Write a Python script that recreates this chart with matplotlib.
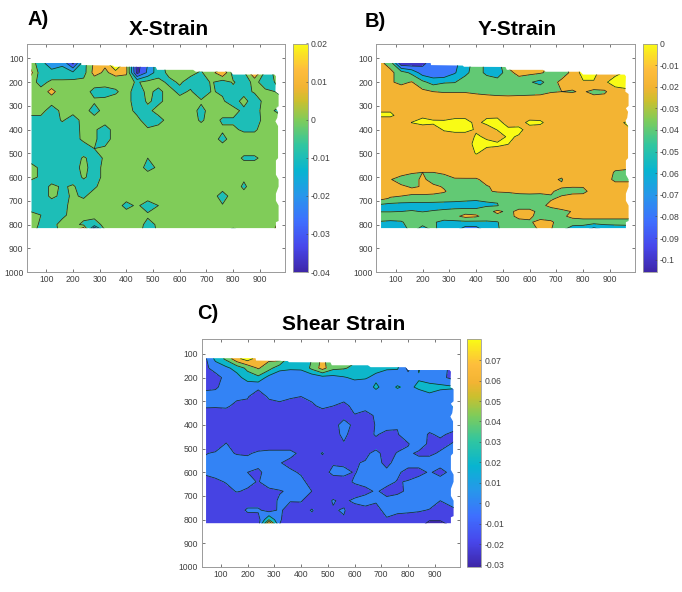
import numpy as np
import matplotlib
matplotlib.use("Agg")
import matplotlib.pyplot as plt
from matplotlib.colors import LinearSegmentedColormap, Normalize
from matplotlib.cm import ScalarMappable
from matplotlib.patches import Polygon

plt.rcParams['font.family'] = ['Liberation Sans', 'DejaVu Sans']

W, H = 682, 592

parula_colors = [(0.0,(0.2422,0.1504,0.6603)),(0.111,(0.2803,0.2782,0.9221)),(0.222,(0.2440,0.4358,0.9988)),
                 (0.333,(0.1540,0.5902,0.9218)),(0.444,(0.0297,0.7082,0.8163)),(0.556,(0.1938,0.7758,0.6251)),
                 (0.667,(0.5044,0.7993,0.3480)),(0.75,(0.8000,0.7500,0.1800)),(0.81,(0.9500,0.7050,0.2000)),
                 (0.889,(0.9955,0.7411,0.2371)),(1.0,(0.9769,0.9839,0.0805))]
parula = LinearSegmentedColormap.from_list("parula", parula_colors, N=256)

x_nodes = [40,80,120,160,200,240,280,320,360,400,440,480,520,560,600,640,680,720,760,800,840,880,920,975]
y_nodes = [120,160,200,240,280,320,360,400,440,480,520,560,600,640,680,720,760,800,820]
y_nodes_b = [120,160,200,240,280,340,370,400,430,460,500,540,580,610,640,660,690,720,745,765,790,820]

# specimen outline
outline_x = [45,230,232,350,355,510,515,650,660,790,800,955,960,958,970,970,960,968,965,958,968,968,960,960,970,970,960,960,970,970,960,960,45]
outline_y = [118,118,128,130,135,136,148,148,156,156,168,168,175,240,250,300,310,325,350,365,385,520,530,590,610,640,670,700,720,785,790,815,815]

# X-strain, in thousandths
x_strain = [
 [6,-6,-17,-12,-32,-4,12,12,40,12,-35,-20,-3,3,3,3,3,3,3,3,3,3,3,3],
 [14,-5,-6,-6,-8,-4,14,8,14,12,-33,-18,-4,2,2,2,-1,6,20,-5,-2,20,-3,3],
 [4,-3,2,2,3,3,3,3,3,3,-1,3,3,-2,1,-3,-4,1,-5,1,-5,3,-5,3],
 [3,3,14,3,3,3,-2,-3,-1,3,-4,2,-2,3,-2,1,-5,0.5,-1,-3,-3,1,2,-1],
 [3,3,3,3,3,3,1,2,3,3,-4,1,-2,3,3,3,1,1,1,-4,3,-5,3,2],
 [3,3,-4,2,3,3,-3,3,3,3,-2,-2,3,3,3,3,-2,3,3,3,-2,-3,3,-2],
 [-3,-3,-5,1,-4,3,3,3,3,3,2,-4,-3,3,3,3,-1,3,-1,-1,-3,-4,3,3],
 [-5,-5,-5,-5,-5,3,1,-3,3,3,3,1,3,3,3,3,3,3,1,1,-1,-1,3,3],
 [-5,-5,-5,-5,-4,2,1,-3,3,3,3,3,3,3,3,3,3,3,-2,3,3,3,3,3],
 [-5,-5,-5,-5,-5,-5,0,1,3,3,3,3,3,3,3,3,3,3,3,3,3,3,3,3],
 [-2,-4,-5,-5,-4,1,-3,1,3,3,3,0,2,3,3,3,3,3,3,3,-1,-1,2,3],
 [2,-1,-5,-5,-3,2,-3,2,3,3,3,-2,1,3,3,3,3,3,3,3,3,3,2,3],
 [2,-1,-5,-4,-4,1,-3,2,3,3,3,3,3,3,3,3,3,3,3,3,1,1,3,3],
 [-4,-5,2,-1,1,-4,-1,3,3,3,3,3,3,3,3,3,3,3,3,3,-1,3,3,3],
 [-5,-5,2,-2,1,-1,3,3,3,3,3,3,3,3,3,3,3,3,-3,3,2,3,3,3],
 [-5,-5,-5,-3,3,3,3,3,3,-2,1,-3,0,3,3,3,3,3,0.5,3,3,3,3,3],
 [3,0,-3,-2,3,3,2,3,3,3,3,1,3,3,3,3,3,3,3,3,3,3,3,3],
 [3,-1,-3,3,3,-2,-3,2,3,3,3,-2,1,3,3,3,3,3,3,3,3,3,3,12],
 [3,-2,-4,3,3,18,-34,2,3,3,3,-3,1,3,3,3,3,3,3,-1,3,3,3,14],
]

# Y-strain, in thousandths
y_strain = [
 [-15,-28,-95,-95,-85,-70,-65,-65,-50,-30,-45,-50,-15,-15,-10,-10,-25,-25,-10,8,8,-5,5,5],
 [-12,-15,-30,-45,-70,-75,-78,-62,-45,-30,-45,-55,-25,-15,-15,-18,-25,-30,-15,8,8,-15,-5,5],
 [-10,-18,-24,-19,-35,-48,-42,-41,-30,-30,-28,-28,-28,-28,-38,-46,-28,-15,-15,-2,-2,-3,8,8],
 [-10,-10,-10,-12,-15,-20,-21,-21,-21,-23,-25,-27,-28,-27,-26,-25,-21,-20,-21,-18,-25,-23,-8,-3],
 [-10,-10,-10,-10,-10,-10,-10,-10,-10,-10,-10,-10,-10,-10,-10,-10,-10,-10,-10,-10,-10,-10,-10,-10],
 [3,3,-6,-10,-3,-6,-9,-5,-5,-9,-3,-3,-9,-10,-10,-10,-10,-10,-10,-10,-10,-10,-10,-10],
 [-12,-12,-10,0.5,5,3,4,6,6,-4,4,5,-6,-8,5,4,-10,-10,-10,-10,-10,-10,-4,3],
 [-10,-10,-10,-10,-10,-10,2,6,6,-2,-9,1,3,5,-8,-10,-10,-10,-10,-10,-10,-10,-6,-1],
 [-10,-10,-10,-10,-10,-10,-10,-10,-10,2,-2,-10,3,-2,-10,-10,-10,-10,-10,-10,-10,-10,-10,-10],
 [-10,-10,-10,-10,-10,-10,-10,-10,-8,5,3,3,0.5,-10,-10,-10,-10,-10,-10,-10,-10,-10,-10,-10],
 [-10,-10,-10,-10,-10,-10,-10,-10,-10,1,-5,-8,-10,-10,-10,-10,-10,-10,-10,-10,-10,-10,-10,-10],
 [-10,-10,-10,-10,-10,-10,-10,-10,-10,-10,-10,-10,-10,-10,-10,-10,-10,-10,-10,-10,-10,-10,-10,-10],
 [-10,-10,-12,-18,-20,-20,-17,-11,-10,-10,-10,-10,-10,-10,-10,-10,-10,-16,-10,-10,-10,-10,-22,-25],
 [-10,-19,-28,-30,-15,-30,-28,-22,-22,-22,-15,-10,-10,-10,-10,-10,-18,-21,-10,-10,-10,-10,-25,-25],
 [-10,-14,-17,-22,-19,-15,-22,-30,-30,-28,-21,-17,-12,-12,-15,-14,-13,-18,-19,-19,-12,-10,-10,-10],
 [-10,-10,-12,-15,-14,-15,-18,-28,-30,-30,-22,-18,-17,-16,-17,-18,-18,-25,-26,-25,-12,-10,-10,-10],
 [-13,-22,-24,-26,-27,-28,-30,-30,-33,-35,-38,-38,-35,-28,-25,-24,-22,-17,-10,-10,-10,-10,-10,-10],
 [-45,-48,-50,-50,-50,-50,-50,-52,-52,-52,-42,-41,-28,-28,-28,-25,-15,-10,-10,-10,-10,-10,-10,-10],
 [-41,-41,-40,-38,-41,-38,-35,-30,-28,-28,-28,-15,-25,-15,-15,-25,-30,-25,-19,-10,-10,-10,-10,-10],
 [-28,-28,-30,-28,-28,-30,-30,-25,-14,-17,-28,-26,-25,-16,-17,-26,-26,-24,-15,-10,-10,-10,-10,-10],
 [-42,-44,-42,-32,-30,-38,-45,-45,-45,-45,-43,-41,-28,-25,-22,-15,-18,-26,-30,-32,-32,-32,-32,-32],
 [-55,-55,-55,-30,-50,-35,-50,-52,-70,-70,-50,-42,-30,-28,-25,-18,-19,-35,-50,-50,-68,-55,-52,-50],
]

# Shear strain, in thousandths
shear_strain = [
 [-5,25,45,75,90,70,65,70,25,25,40,65,45,45,45,45,25,25,25,-5,25,5,5,5],
 [-5,8,15,28,45,62,48,25,22,22,45,68,45,42,35,28,26,22,22,-5,22,6,5,-5],
 [-8,-8,6,12,30,35,12,8,10,12,5,12,13,18,24,22,15,11,8,8,18,8,6,-8],
 [-5,-3,8,8,5,3,8,8,8,8,8,8,8,8,8,8,24,10,22,15,24,28,25,22],
 [8,8,8,4,1,-7,2,6,2,0,4,8,8,8,8,8,8,8,8,8,8,15,8,10],
 [1,2,3,-5,-3,-2,-5,-5,-7,-8,-3,4,0,-6,6,8,8,8,8,8,8,8,8,22],
 [-4,-10,-10,-10,-10,-10,-10,-10,-10,-10,-10,-10,-3,-4,-1,-8,3,8,8,8,8,8,8,8],
 [-10,-10,-10,-10,-10,-10,-10,-10,-10,-10,-10,-10,-5,5,-3,-8,1,8,1,8,8,8,8,8],
 [-10,-10,-10,-10,-10,-10,-10,-10,-10,-10,-10,-10,-5,3,-6,-8,2,-6,-1,8,8,-2,3,-5],
 [-10,-10,1,-10,-4,-10,-10,-10,-10,-10,-10,-10,-6,-1,-8,-6,-7,-7,-6,-1,8,-3,-5,2],
 [-1,2,3,-1,-2,3,5,5,5,-4,-6,1,-10,-10,-10,-3,4,-6,1,3,-3,-3,2,8],
 [3,8,8,7,6,6,3,1,-5,-8,-8,-6,-2,-3,-1,1,6,-5,7,7,7,7,7,8],
 [2,5,8,8,0,-4,8,8,3,-2,-8,-8,5,4,-1,5,8,4,3,-6,-6,2,-6,8],
 [-5,-3,1,8,4,-1,8,8,8,4,-6,-10,-10,-6,2,6,8,5,-1,1,8,8,8,8],
 [-8,-8,-5,1,-2,-4,-4,-1,2,6,0,-8,-6,-8,-8,-5,2,-5,-4,3,8,8,8,8],
 [-10,-10,-10,-10,-10,-10,-6,2,1,1,-8,-6,1,-3,3,8,1,4,8,8,8,8,0,8],
 [-10,-10,-10,-10,3,3,-8,3,-8,-6,1,-6,-1,1,-7,-6,-3,3,6,4,2,-1,-5,-2],
 [-10,-10,-10,-10,-10,-8,40,2,-10,-12,-4,-10,-10,-1,-10,-10,-7,-1,-10,-10,-10,-18,-18,-10],
 [-12,-12,-12,-12,-12,-12,95,0,-12,-12,-12,-12,-12,-12,-12,-12,-12,-4,-12,-12,-12,-27,-27,-12],
]

x_levels = [-0.04,-0.03,-0.02,-0.01,0,0.01,0.02,0.10]
y_levels = [-0.14,-0.10,-0.08,-0.06,-0.04,-0.02,0,0.05]
s_levels = [-0.03,-0.02,0,0.02,0.04,0.06,0.08,0.12]

x_cticks = [-0.04,-0.03,-0.02,-0.01,0,0.01,0.02]
y_cticks = [-0.1,-0.09,-0.08,-0.07,-0.06,-0.05,-0.04,-0.03,-0.02,-0.01,0]
s_cticks = [-0.03,-0.02,-0.01,0,0.01,0.02,0.03,0.04,0.05,0.06,0.07]

x_ticks = [100,200,300,400,500,600,700,800,900]
y_ticks = [100,200,300,400,500,600,700,800,900,1000]

GRAY = '#404040'
EDGE = '#9a9a9a'

fig = plt.figure(figsize=(W/100, H/100), dpi=100)

def box(l, t, r, b):
    return [l/W, 1-b/H, (r-l)/W, (b-t)/H]

def panel(data, ynodes, levels, vmin, vmax, cticks, ax_px, cb_px):
    ax = fig.add_axes(box(*ax_px))
    Z = np.array(data, dtype=float)/1000.0
    X, Y = np.meshgrid(x_nodes, ynodes)
    norm = Normalize(vmin, vmax)
    cols = [parula(norm(v)) for v in levels[:-1]]
    cf = ax.contourf(X, Y, Z, levels=levels, colors=cols)
    cl = ax.contour(X, Y, Z, levels=levels[1:-1], colors='#1a2a2a', linewidths=0.55,
                    linestyles='solid')
    clip = Polygon(np.column_stack([outline_x, outline_y]), closed=True,
                   transform=ax.transData, fill=False, edgecolor='none')
    ax.add_patch(clip)
    cf.set_clip_path(clip)
    cl.set_clip_path(clip)
    ax.set_xlim(28, 994)
    ax.set_ylim(1000, 37)
    ax.set_xticks(x_ticks)
    ax.set_yticks(y_ticks)
    ax.tick_params(direction='in', length=2, width=0.5, color=GRAY, labelcolor=GRAY,
                   labelsize=6.2, top=True, right=True, pad=2.5)
    for s in ax.spines.values():
        s.set_linewidth(0.7)
        s.set_color(EDGE)
    cax = fig.add_axes(box(*cb_px))
    cb = fig.colorbar(ScalarMappable(norm=norm, cmap=parula), cax=cax)
    cb.set_ticks(cticks)
    cb.set_ticklabels([f'{v:g}' for v in cticks])
    cb.ax.tick_params(direction='in', length=1.5, width=0.4, color=GRAY, labelcolor=GRAY,
                      labelsize=6.2, pad=2)
    cb.outline.set_linewidth(0.6)
    cb.outline.set_edgecolor(EDGE)

panel(x_strain, y_nodes, x_levels, -0.04, 0.02, x_cticks, (27,43.5,285,272), (293,43.5,307.5,272))
panel(y_strain, y_nodes_b, y_levels, -0.1057, 0, y_cticks, (376.5,43.5,635,272), (642.5,43.5,656.5,272))
panel(shear_strain, y_nodes, s_levels, -0.0311, 0.0803, s_cticks, (201.5,339,460,567), (467.5,339,481.5,567))

def label(x, y, s, size, ha='left'):
    fig.text(x/W, 1-y/H, s, fontsize=size, fontweight='bold', color='black', ha=ha, va='baseline')

label(169, 35, 'X-Strain', 15, 'center')
label(517, 35, 'Y-Strain', 15, 'center')
label(344, 330, 'Shear Strain', 15, 'center')
label(27, 25, 'A)', 14.4)
label(365, 27, 'B)', 14.4)
label(197, 319, 'C)', 14.4)

fig.savefig('out.png', dpi=100, facecolor='white')
